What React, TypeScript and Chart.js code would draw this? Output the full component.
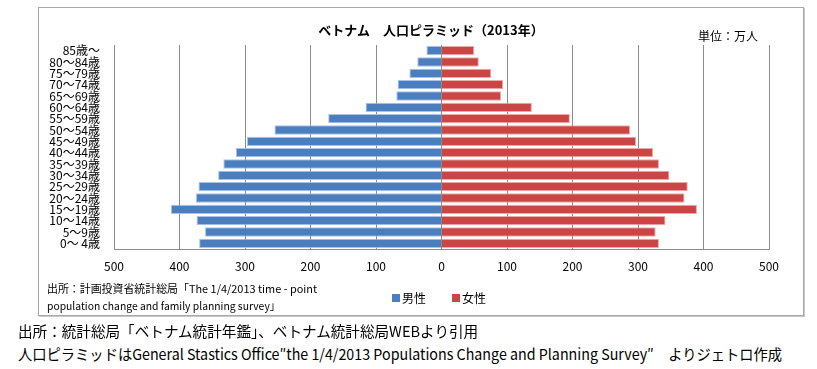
import React, { useEffect, useLayoutEffect, useRef } from "react";
import { Chart, registerables } from "chart.js";

Chart.register(...registerables);

const ageGroups = [
  "85歳～", "80～84歳", "75～79歳", "70～74歳", "65～69歳", "60～64歳",
  "55～59歳", "50～54歳", "45～49歳", "40～44歳", "35～39歳", "30～34歳",
  "25～29歳", "20～24歳", "15～19歳", "10～14歳", " 5～9歳", "0～ 4歳",
];
const male = [23, 37, 49, 67, 69, 116, 173, 255, 297, 314, 333, 341, 371, 375, 413, 374, 361, 370];
const female = [50, 57, 76, 94, 91, 138, 196, 288, 297, 323, 332, 348, 376, 371, 390, 342, 327, 332];
const seriesNames = ["男性", "女性"];
const xMin = -500;
const xMax = 500;
const xStep = 100;

const FONT = "'Noto Sans CJK JP', 'Noto Sans', sans-serif";
const BLUE = "#4A7EBF";
const RED = "#CC4545";

function FitText(props: { text: string; left: number; top: number; width: number; size: number; style?: any }) {
  const ref = useRef<HTMLDivElement>(null);
  useLayoutEffect(() => {
    const el = ref.current;
    if (!el) return;
    el.style.transform = "none";
    const w = el.scrollWidth;
    if (w > 0) el.style.transform = `scaleX(${props.width / w})`;
  }, [props.text, props.width]);
  return (
    <div
      ref={ref}
      style={{
        position: "absolute",
        left: props.left,
        top: props.top,
        fontSize: props.size,
        fontFamily: FONT,
        whiteSpace: "nowrap",
        transformOrigin: "0 0",
        lineHeight: `${props.size + 4}px`,
        color: "#000",
        ...(props.style || {}),
      }}
    >
      {props.text}
    </div>
  );
}

export default function App() {
  const canvasRef = useRef<HTMLCanvasElement>(null);

  useEffect(() => {
    const canvas = canvasRef.current;
    if (!canvas) return;
    const chart = new Chart(canvas, {
      type: "bar",
      data: {
        labels: ageGroups,
        datasets: [
          {
            label: seriesNames[0],
            data: male.map((v) => -v),
            backgroundColor: BLUE,
            borderColor: "rgba(160,190,230,0.9)",
            borderWidth: 1,
            barPercentage: 0.82,
            categoryPercentage: 1,
          },
          {
            label: seriesNames[1],
            data: female,
            backgroundColor: RED,
            borderColor: "rgba(235,160,160,0.9)",
            borderWidth: 1,
            barPercentage: 0.82,
            categoryPercentage: 1,
          },
        ],
      },
      options: {
        indexAxis: "y",
        animation: false,
        responsive: false,
        maintainAspectRatio: false,
        devicePixelRatio: 1,
        layout: { padding: { left: 0, right: 35, top: 38, bottom: 37 } },
        plugins: {
          legend: { display: false },
          title: { display: false },
          tooltip: { enabled: false },
        },
        scales: {
          x: {
            stacked: true,
            min: xMin,
            max: xMax,
            ticks: {
              stepSize: xStep,
              callback: (v: any) => String(Math.abs(Number(v))),
              color: "#000",
              font: { family: FONT, size: 12 },
              padding: 10,
              maxRotation: 0,
            },
            grid: { color: "#8c8c8c", lineWidth: 1, drawTicks: false },
            border: { display: true, color: "#8c8c8c" },
            afterFit: (scale: any) => {
              scale.height = 30;
            },
          },
          y: {
            stacked: true,
            ticks: {
              color: "#000",
              font: { family: FONT, size: 12 },
              padding: 14,
              autoSkip: false,
            },
            grid: { display: false, drawTicks: false },
            border: { display: true, color: "#8c8c8c" },
            afterFit: (scale: any) => {
              scale.width = 76;
            },
          },
        },
      },
    });
    return () => chart.destroy();
  }, []);

  return (
    <div style={{ position: "absolute", left: 0, top: 0, width: 817, height: 369, background: "#fff", fontFamily: FONT }}>
      <div
        style={{
          position: "absolute",
          left: 38,
          top: 7,
          width: 766,
          height: 309,
          border: "1px solid #a8a8a8",
          boxSizing: "border-box",
          boxShadow: "1px 1px 0 #c8c8c8",
        }}
      />
      <canvas
        ref={canvasRef}
        width={766}
        height={309}
        style={{ position: "absolute", left: 38, top: 7, width: 766, height: 309 }}
      />
      <div
        style={{
          position: "absolute",
          left: 431,
          top: 22,
          transform: "translateX(-50%)",
          fontSize: 13,
          fontWeight: "bold",
          lineHeight: "16px",
          whiteSpace: "nowrap",
        }}
      >
        ベトナム　人口ピラミッド（2013年）
      </div>
      <div style={{ position: "absolute", left: 698, top: 28, fontSize: 12, lineHeight: "16px", whiteSpace: "nowrap" }}>
        単位：万人
      </div>
      <FitText text="出所：計画投資省統計総局「The 1/4/2013 time - point" left={47} top={281} width={270} size={11} />
      <FitText text="population change and family planning survey」" left={47} top={298} width={233} size={11} />
      <div style={{ position: "absolute", left: 392, top: 290, fontSize: 12, lineHeight: "16px", whiteSpace: "nowrap", display: "flex", alignItems: "center" }}>
        <span style={{ display: "inline-block", width: 8, height: 8, background: BLUE, marginRight: 2 }} />
        {seriesNames[0]}
      </div>
      <div style={{ position: "absolute", left: 452, top: 290, fontSize: 12, lineHeight: "16px", whiteSpace: "nowrap", display: "flex", alignItems: "center" }}>
        <span style={{ display: "inline-block", width: 8, height: 8, background: RED, marginRight: 2 }} />
        {seriesNames[1]}
      </div>
      <FitText text="出所：統計総局「ベトナム統計年鑑」、ベトナム統計総局WEBより引用" left={18} top={321} width={460} size={15} />
      <FitText
        text="人口ピラミッドはGeneral Stastics Office″the 1/4/2013 Populations Change and Planning Survey″　よりジェトロ作成"
        left={18}
        top={344}
        width={764}
        size={15}
      />
    </div>
  );
}
